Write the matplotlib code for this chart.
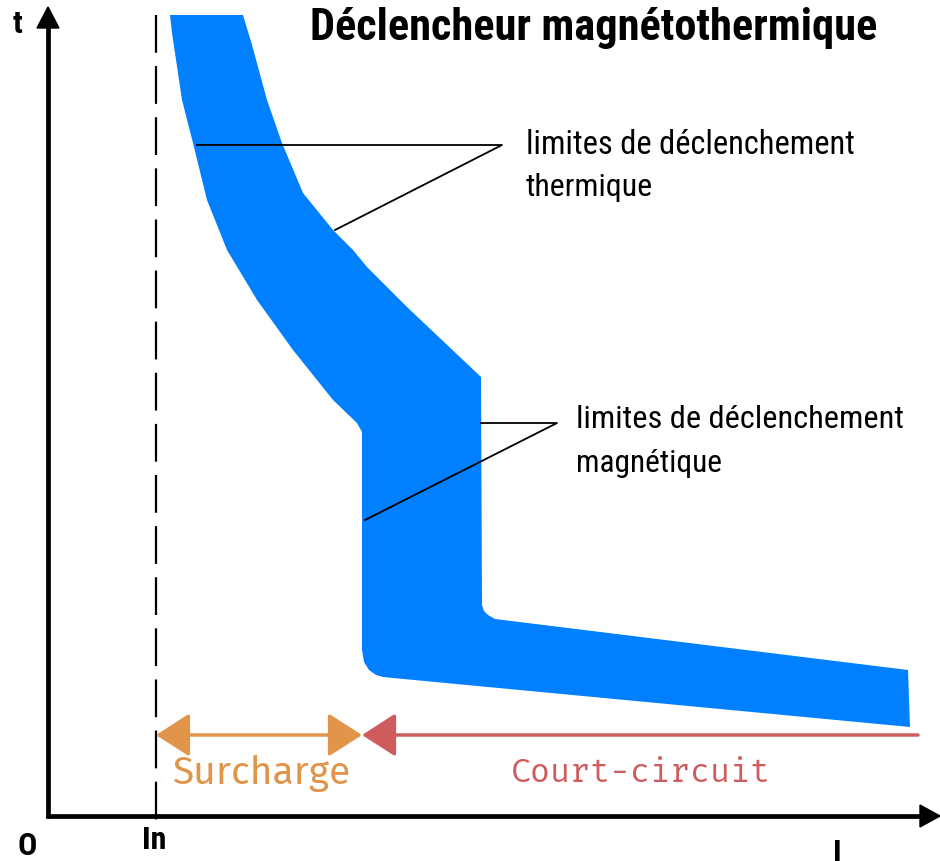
import matplotlib
matplotlib.use("Agg")
import matplotlib.pyplot as plt
from matplotlib.patches import Polygon, FancyArrowPatch
import numpy as np

# Tripping band outline, in drawing units (x: current, y: time, downward)
band_left_x = [170, 172, 182, 193, 207, 227, 257, 293, 333, 357, 362, 362, 364, 369, 376, 383, 393, 910]
band_left_y = [15, 33, 100, 143, 200, 250, 300, 350, 400, 423, 432, 650, 662, 670, 675, 677, 678, 727]
band_right_x = [910, 908, 495, 488, 484, 482, 481, 407, 367, 353, 333, 303, 282, 267, 252, 243]
band_right_y = [727, 670, 619, 615, 611, 605, 377, 307, 267, 250, 230, 193, 143, 100, 45, 15]

# Zones along the current axis
x_in = 156
x_magnetic = 362
x_end = 918
zone_y = 735

title = "Déclencheur magnétothermique"
thermal_label = ["limites de déclenchement", "thermique"]
magnetic_label = ["limites de déclenchement", "magnétique"]

BLUE = "#0080FF"
ORANGE = "#E0954A"
RED = "#CF5C5C"
NARROW = ["Roboto Condensed", "DejaVu Sans"]

fig = plt.figure(figsize=(9.4, 8.61), dpi=100)
ax = fig.add_axes([0, 0, 1, 1])
ax.set_xlim(0, 940)
ax.set_ylim(861, 0)
ax.axis("off")
renderer = fig.canvas.get_renderer()


def fit_text(x, y, s, width, size=20, **kw):
    """Put a left-aligned text and scale its size so it spans `width` units."""
    t = ax.text(x, y, s, fontsize=size, ha="left", va="center", **kw)
    bb = t.get_window_extent(renderer)
    t.set_fontsize(size * width / bb.width)
    return t


# axes with arrow heads
ax.plot([48, 48], [818, 24], color="black", lw=3.4, solid_capstyle="butt")
ax.plot([46, 922], [816, 816], color="black", lw=3.4, solid_capstyle="butt")
ax.add_patch(Polygon([[37, 28], [59, 28], [48, 7]], closed=True, color="black"))
ax.add_patch(Polygon([[920, 805], [920, 827], [940, 816]], closed=True, color="black"))

# nominal current line
ln, = ax.plot([x_in, x_in], [15, 822], color="black", lw=1.6)
ln.set_dashes([17, 6])

# band
pts = np.column_stack([band_left_x + band_right_x, band_left_y + band_right_y])
ax.add_patch(Polygon(pts, closed=True, facecolor=BLUE, edgecolor="none"))

# leader lines
ax.plot([197, 502, 335], [145, 145, 230], color="black", lw=1.3)
ax.plot([481, 557, 365], [423, 423, 520], color="black", lw=1.3)

# texts
fit_text(310, 28, title, 565, family=NARROW, fontweight="bold")
fit_text(526, 145, thermal_label[0], 329, family=NARROW)
fit_text(526, 188, thermal_label[1], 127, family=NARROW)
fit_text(576, 419, magnetic_label[0], 327, family=NARROW)
fit_text(576, 463, magnetic_label[1], 146, family=NARROW)
for x, y, s in [(18, 24, "t"), (27, 846, "O"), (154, 840, "In"), (837, 853, "I")]:
    ax.text(x, y, s, family=NARROW, fontweight="bold", fontsize=23,
            ha="center", va="center")

# zone arrows
ax.add_patch(FancyArrowPatch((x_in, zone_y), (x_magnetic, zone_y),
                             arrowstyle="<|-|>,head_length=1.4,head_width=0.9",
                             mutation_scale=15, color=ORANGE, lw=2.5,
                             shrinkA=0, shrinkB=0))
ax.add_patch(FancyArrowPatch((x_end, zone_y), (x_magnetic, zone_y),
                             arrowstyle="-|>,head_length=1.4,head_width=0.9",
                             mutation_scale=15, color=RED, lw=2.5,
                             shrinkA=0, shrinkB=0))
fit_text(172, 773, "Surcharge", 178, family=["Fira Sans", "Open Sans"], color=ORANGE)
fit_text(511, 773, "Court-circuit", 259, family=["Fira Mono", "DejaVu Sans Mono"], color=RED)

fig.savefig("out.png", dpi=100)
